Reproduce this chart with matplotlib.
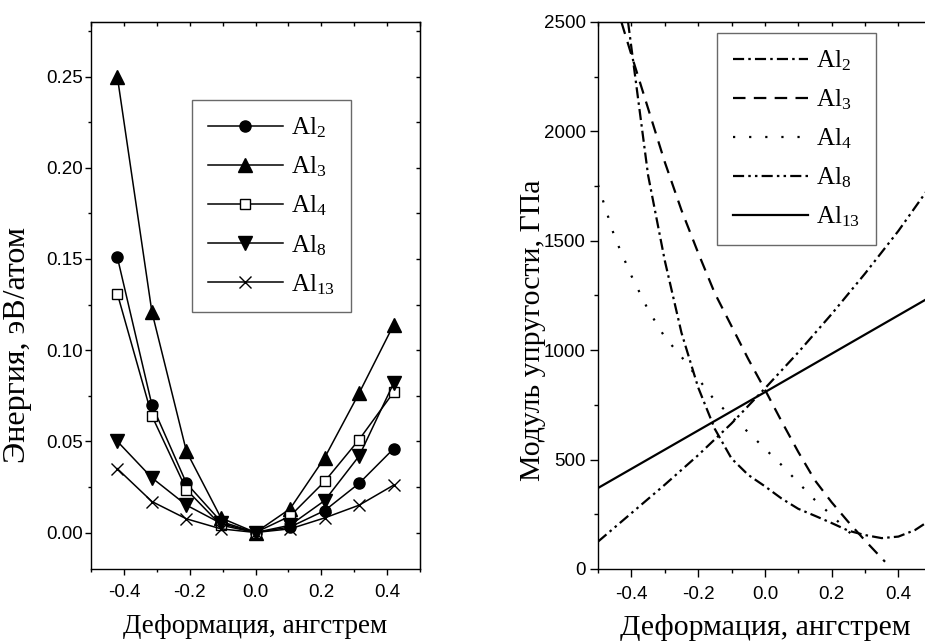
import numpy as np
import matplotlib
matplotlib.use("Agg")
import matplotlib.pyplot as plt
from matplotlib.ticker import MultipleLocator

plt.rcParams['font.family'] = ['Liberation Sans', 'DejaVu Sans']
plt.rcParams['mathtext.fontset'] = 'custom'
plt.rcParams['mathtext.rm'] = 'Liberation Serif'
plt.rcParams['mathtext.it'] = 'Liberation Serif:italic'
plt.rcParams['lines.scale_dashes'] = False
serif = ['Liberation Serif', 'DejaVu Serif']

# ---- left panel: energy vs deformation
x_def = [-0.42, -0.315, -0.21, -0.105, 0.0, 0.105, 0.21, 0.315, 0.42]
e_al2 = [0.151, 0.070, 0.027, 0.006, 0.0, 0.003, 0.012, 0.027, 0.046]
e_al3 = [0.250, 0.121, 0.0445, 0.008, 0.0, 0.013, 0.041, 0.0765, 0.114]
e_al4 = [0.131, 0.064, 0.0235, 0.004, 0.0, 0.009, 0.028, 0.051, 0.077]
e_al8 = [0.050, 0.030, 0.015, 0.005, 0.0, 0.004, 0.0175, 0.042, 0.082]
e_al13 = [0.035, 0.017, 0.0075, 0.002, 0.0, 0.002, 0.008, 0.015, 0.026]

# ---- right panel: elastic modulus vs deformation
x_al2 = [-0.41, -0.35, -0.30, -0.25, -0.20, -0.15, -0.10, -0.05, 0.0, 0.05, 0.10,
         0.15, 0.20, 0.25, 0.30, 0.35, 0.40, 0.45, 0.50]
m_al2 = [2500, 1800, 1410, 1080, 830, 640, 505, 430, 378, 322, 275,
         243, 210, 175, 155, 141, 148, 178, 228]
x_al3 = [-0.43, -0.40, -0.35, -0.30, -0.25, -0.20, -0.15, -0.10, -0.05, 0.0,
         0.05, 0.10, 0.15, 0.20, 0.25, 0.30, 0.36]
m_al3 = [2500, 2350, 2105, 1860, 1640, 1445, 1260, 1110, 960, 820,
         675, 535, 405, 305, 215, 130, 33]
x_al4 = [-0.50, -0.45, -0.40, -0.35, -0.30, -0.25, -0.20, -0.15, -0.10, -0.05,
         0.0, 0.05, 0.10, 0.15, 0.20, 0.25, 0.27]
m_al4 = [1755, 1516, 1340, 1185, 1060, 970, 870, 770, 697, 625,
         550, 475, 395, 315, 245, 172, 145]
x_al8 = [-0.5, -0.4, -0.3, -0.2, -0.1, 0.0, 0.1, 0.2, 0.3, 0.4, 0.5]
m_al8 = [125, 255, 385, 520, 665, 825, 990, 1165, 1350, 1545, 1760]
x_al13 = [-0.5, 0.0, 0.5]
m_al13 = [370, 808, 1247]

labels = [r'$\mathrm{Al}_{2}$', r'$\mathrm{Al}_{3}$', r'$\mathrm{Al}_{4}$',
          r'$\mathrm{Al}_{8}$', r'$\mathrm{Al}_{13}$']

fig = plt.figure(figsize=(9.25, 6.44), dpi=100)
ax1 = fig.add_axes([0.0984, 0.1165, 0.3557, 0.8494])
ax2 = fig.add_axes([0.6465, 0.1165, 0.3608, 0.8494])

def style_axes(ax, major_len):
    for s in ax.spines.values():
        s.set_linewidth(1.0)
    ax.tick_params(which='both', direction='out', top=False, right=False,
                   labelsize=13.5, width=1.0)
    ax.tick_params(which='major', length=major_len)
    ax.tick_params(which='minor', length=major_len / 2)
    ax.tick_params(axis='x', which='major', pad=6.5)
    ax.tick_params(axis='y', which='major', pad=3)
    sec_x = ax.secondary_xaxis('top')
    sec_y = ax.secondary_yaxis('right')
    for sec in (sec_x, sec_y):
        sec.tick_params(which='both', direction='in', length=3, width=1.0)
    sec_x.set_xticklabels([])
    sec_y.set_yticklabels([])
    return sec_x, sec_y

def make_legend(ax, anchor):
    leg = ax.legend(loc='upper left', bbox_to_anchor=anchor, fontsize=18,
                    frameon=True, fancybox=False, edgecolor='#444444',
                    handlelength=3.0, labelspacing=0.58, borderpad=0.62,
                    handletextpad=0.35, borderaxespad=0)
    leg.get_frame().set_linewidth(1.0)
    return leg

# left panel
mk = [dict(marker='o', ms=8, mfc='k'),
      dict(marker='^', ms=9.5, mfc='k'),
      dict(marker='s', ms=7, mfc='white'),
      dict(marker='v', ms=9.5, mfc='k'),
      dict(marker='x', ms=9, mew=1.0)]
for yv, lab, m in zip([e_al2, e_al3, e_al4, e_al8, e_al13], labels, mk):
    ax1.plot(x_def, yv, color='k', lw=1.1, mec='k', label=lab, **m)

ax1.set_xlim(-0.5, 0.5)
ax1.set_ylim(-0.02, 0.28)
ax1.xaxis.set_major_locator(MultipleLocator(0.2))
ax1.xaxis.set_minor_locator(MultipleLocator(0.1))
ax1.yaxis.set_major_locator(MultipleLocator(0.05))
ax1.yaxis.set_minor_locator(MultipleLocator(0.025))
ax1.xaxis.set_major_formatter(lambda v, p: f'{v:.1f}')
ax1.yaxis.set_major_formatter(lambda v, p: f'{v:.2f}')
sx, sy = style_axes(ax1, 4.3)
sx.xaxis.set_major_locator(MultipleLocator(0.1))
sy.yaxis.set_major_locator(MultipleLocator(0.025))
ax1.tick_params(axis='y', which='major', pad=1.5)
ax1.set_xlabel('Деформация, ангстрем', family=serif, fontsize=19.5)
ax1.set_ylabel('Энергия, эВ/атом', family=serif, fontsize=23)
ax1.xaxis.set_label_coords(0.5, -0.083)
ax1.yaxis.set_label_coords(-0.18, 0.41)
make_legend(ax1, (0.307, 0.857))

# right panel
ax2.plot(x_al2, m_al2, color='k', lw=1.6, dashes=(8, 3, 1.8, 3), label=labels[0])
ax2.plot(x_al3, m_al3, color='k', lw=1.6, dashes=(9, 6), label=labels[1])
ax2.plot(x_al4, m_al4, color='k', lw=1.6, dashes=(1.6, 10), label=labels[2])
ax2.plot(x_al8, m_al8, color='k', lw=1.6, dashes=(8, 3, 1.8, 3, 1.8, 3), label=labels[3])
ax2.plot(x_al13, m_al13, color='k', lw=1.6, label=labels[4])
ax2.set_xlim(-0.5, 0.5)
ax2.set_ylim(0, 2500)
ax2.xaxis.set_major_locator(MultipleLocator(0.2))
ax2.xaxis.set_minor_locator(MultipleLocator(0.1))
ax2.yaxis.set_major_locator(MultipleLocator(500))
ax2.yaxis.set_minor_locator(MultipleLocator(250))
ax2.xaxis.set_major_formatter(lambda v, p: f'{v:.1f}')
sx2, sy2 = style_axes(ax2, 5.8)
sx2.xaxis.set_major_locator(MultipleLocator(0.1))
sy2.yaxis.set_major_locator(MultipleLocator(250))
ax2.set_xlabel('Деформация, ангстрем', family=serif, fontsize=21.5)
ax2.set_ylabel('Модуль упругости, ГПа', family=serif, fontsize=21.5)
ax2.xaxis.set_label_coords(0.5, -0.083)
ax2.yaxis.set_label_coords(-0.155, 0.437)
make_legend(ax2, (0.357, 0.98))

fig.savefig('out.png', dpi=100)
